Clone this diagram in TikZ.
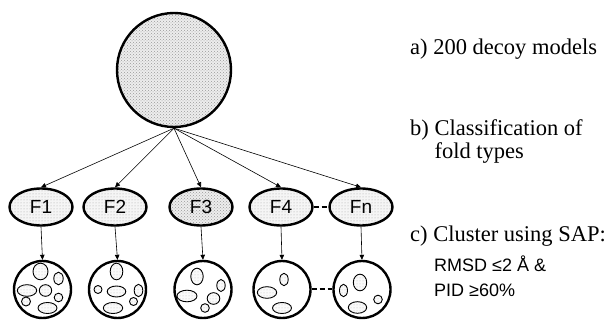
\documentclass[tikz,border=0pt]{standalone}
\usepackage{fontspec}
\setmainfont{Liberation Serif}
\newfontfamily\arialfont{Liberation Sans}
\usetikzlibrary{arrows.meta,patterns,shapes.geometric}
\begin{document}
\begin{tikzpicture}[x=1pt,y=-1pt,
  heavy/.style={draw=black, line width=2.4pt},
  lightdots/.style={preaction={fill=gray!8}, pattern=dots, pattern color=gray!70},
  darkdots/.style={preaction={fill=gray!14}, pattern=crosshatch dots, pattern color=gray!80},
  pool/.style={heavy, circle, minimum size=114pt, inner sep=0pt, darkdots},
  fold/.style={heavy, ellipse, minimum width=63pt, minimum height=37pt, inner sep=0pt,
               lightdots, font=\arialfont\fontsize{19}{19}\selectfont},
  cluster/.style={heavy, circle, minimum size=57pt, inner sep=0pt},
  member/.style={draw=black, line width=0.9pt, preaction={fill=gray!4}, pattern=dots, pattern color=gray!50},
  arr/.style={draw=black, line width=0.6pt, -{Triangle[length=5pt,width=4.5pt]}},
  gap/.style={draw=black, line width=2pt, dash pattern=on 5pt off 3pt},
  label/.style={anchor=west, inner sep=0pt, align=left, font=\fontsize{22.5}{23}\selectfont},
  crit/.style={anchor=west, inner sep=0pt, font=\arialfont\fontsize{18}{20}\selectfont}]
\useasboundingbox (0,0) rectangle (611,320);

% all decoy models
\node[pool] (top) at (174,70) {};

% fold classes
\node[fold] (F1) at (41,207) {F1};
\node[fold] (F2) at (115,207) {F2};
\node[fold, darkdots] (F3) at (201,207) {F3};
\node[fold] (F4) at (281,207) {F4};
\node[fold] (Fn) at (361,207) {Fn};

% clusters per fold
\node[cluster] (c1) at (42.5,289.5) {};
\node[cluster] (c2) at (117.5,289.5) {};
\node[cluster] (c3) at (203,289.5) {};
\node[cluster] (c4) at (282,289.5) {};
\node[cluster] (c5) at (362,289.5) {};

% connectors
\foreach \f in {F1,F2,F3,F4,Fn} \draw[arr] (top.south) -- (\f.north);
\draw[arr] (F1.south) -- (c1.north);
\draw[arr] (F2.south) -- (c2.north);
\draw[arr] (F3.south) -- (c3.north);
\draw[arr] (F4.south) -- (c4.north);
\draw[arr] (Fn.south) -- (c5.north);
\draw[gap] (F4.east) -- (Fn.west);
\draw[gap] (c4.east) -- (c5.west);

% members inside each cluster
\begin{scope}[shift={(c1.center)}]
  \path[member] (-2,-18) ellipse [x radius=7.5, y radius=8.3];
  \path[member] (16,-11) ellipse [x radius=4.7, y radius=6.3];
  \path[member] (-15.5,1) ellipse [x radius=9.7, y radius=5.8];
  \path[member] (3,1) ellipse [x radius=6.2, y radius=5.8];
  \path[member] (16,8) circle [radius=4.3];
  \path[member] (-16.5,12) circle [radius=4.5];
  \path[member] (5,18.5) ellipse [x radius=9.5, y radius=5.5];
\end{scope}
\begin{scope}[shift={(c2.center)}]
  \path[member] (-1,-18) ellipse [x radius=6.3, y radius=8.3];
  \path[member] (-19.5,0) circle [radius=4];
  \path[member] (-1,2) ellipse [x radius=9.3, y radius=5.5];
  \path[member] (21,1) ellipse [x radius=4.3, y radius=6.2];
  \path[member] (16,12) circle [radius=4];
  \path[member] (-4.5,18.5) ellipse [x radius=9.7, y radius=5.5];
\end{scope}
\begin{scope}[shift={(c3.center)}]
  \path[member] (-6,-13) ellipse [x radius=6.2, y radius=8.3];
  \path[member] (18,-4) ellipse [x radius=4.2, y radius=6];
  \path[member] (-16,6.5) ellipse [x radius=10, y radius=5.8];
  \path[member] (10.5,9) ellipse [x radius=6.3, y radius=5.8];
  \path[member] (2,18.5) circle [radius=4.3];
\end{scope}
\begin{scope}[shift={(c4.center)}]
  \path[member] (2,-10) ellipse [x radius=4.2, y radius=6.2];
  \path[member] (-15,3) ellipse [x radius=9.7, y radius=5.8];
  \path[member] (0,18.5) ellipse [x radius=9.5, y radius=5.5];
\end{scope}
\begin{scope}[shift={(c5.center)}]
  \path[member] (-18.5,1) ellipse [x radius=4, y radius=6.2];
  \path[member] (-2,-7) ellipse [x radius=6.7, y radius=8.3];
  \path[member] (16,10) circle [radius=4.3];
  \path[member] (-4.5,18) ellipse [x radius=9.2, y radius=5.8];
\end{scope}

% step descriptions
\node[label] (ta) at (410,49) {a) 200 decoy models};
\node[label, anchor=north west] (tb) at (410,119) {b) Classification of\\\hphantom{b) }fold types};
\node[label] (tc) at (410,236) {c) Cluster using SAP:};
\node[crit] (td) at (434,264) {RMSD ≤2 Å \&};
\node[crit] (te) at (434,290) {PID ≥60\%};
\end{tikzpicture}
\end{document}
